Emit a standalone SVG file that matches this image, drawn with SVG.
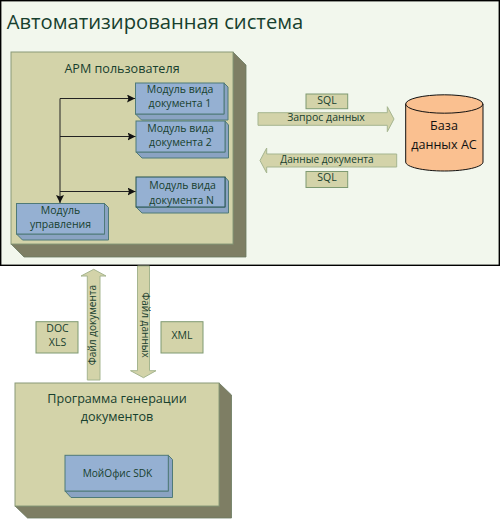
<svg xmlns="http://www.w3.org/2000/svg" width="500" height="519" viewBox="0 0 500 519">
<style>
text{font-family:"Open Sans","Noto Sans","DejaVu Sans",sans-serif;fill:#17402e;text-anchor:middle}
.t10{font-size:10.1px}
.t11{font-size:10.5px}
.t13{font-size:12.6px}
.front{fill:#d3d3a9;stroke:#8a9a78;stroke-width:1}
.side{fill:#7e7e64;stroke:#6a7a60;stroke-width:.8}
.mf{fill:#95b0d2;stroke:#4f7a78;stroke-width:1}
.ms{fill:#8aa3c2;stroke:#4f7a78;stroke-width:1}
.tag{fill:#d3d3a9;stroke:#7f9a72;stroke-width:1}
.arrow{fill:#d3d3a9;stroke:#a5b58f;stroke-width:1}
.conn{fill:none;stroke:#222;stroke-width:1}
</style>
<defs>
<marker id="ah" viewBox="0 0 8 8" refX="8" refY="4" markerWidth="8" markerHeight="8" markerUnits="userSpaceOnUse" orient="auto"><path d="M0 0L8 4L0 8L1.5 4Z" fill="#111"/></marker>
</defs>
<rect width="500" height="519" fill="#fff"/>
<g id="system">
<rect x="0.7" y="0.7" width="498.6" height="264.6" fill="#f2f7ed" stroke="#000" stroke-width="1.4"/>
<text x="155" y="29" style="font-size:20.2px">Автоматизированная система</text>
</g>
<g id="arm">
<path class="side" d="M233 52L246 65V257H24L11 244H233Z"/>
<rect class="front" x="11" y="52" width="222" height="192"/>
<text class="t13" x="122" y="73">АРМ пользователя</text>
</g>
<g id="module1">
<path class="ms" d="M224 83L228 87V120H141.500L135.500 114H224Z"/>
<rect class="mf" x="135.500" y="83" width="88.500" height="31"/>
<text class="t11" x="180" y="93">Модуль вида</text><text class="t11" x="180" y="107">документа 1</text>
</g>
<g id="module2">
<path class="ms" d="M225 121L228.500 125V158H142L136 152H225Z"/>
<rect class="mf" x="136" y="121" width="89" height="31"/>
<text class="t11" x="180.500" y="131.500">Модуль вида</text><text class="t11" x="180.500" y="146">документа 2</text>
</g>
<g id="moduleN">
<path class="ms" d="M225 177L228.500 181V213H142L136 207H225Z"/>
<rect class="mf" x="136" y="177" width="89" height="30" style="stroke:#24524f"/>
<text class="t11" x="182.500" y="189">Модуль вида</text><text class="t11" x="181.500" y="203.500">документа N</text>
</g>
<g id="control">
<path class="ms" d="M104.500 203.500L108.500 207.500V240H22.500L16.500 234H104.500Z"/>
<rect class="mf" x="16.500" y="203.500" width="88" height="30.500"/>
<text class="t11" x="60.500" y="214">Модуль</text><text class="t11" x="60.500" y="228">управления</text>
</g>
<g id="connectors">
<path class="conn" marker-end="url(#ah)" d="M60 98.500H135"/>
<path class="conn" marker-end="url(#ah)" d="M60 136.500H135.500"/>
<path class="conn" marker-end="url(#ah)" d="M60 191.500H135.500"/>
<path class="conn" marker-end="url(#ah)" d="M60 98.500V203"/>
<path class="arrow" d="M258 112.700H387.300V106.700L394 119L387.300 131.700V125.300H258Z"/>
<path class="arrow" d="M396.700 154H266.700V148L260 160.500L266.700 173V167H396.700Z"/>
<path class="arrow" d="M87.300 380V276H81L93.700 269.300L106 276H100V380Z"/>
<path class="arrow" d="M137.500 266V370.700H130.500L143.500 377.700L156 370.700H149.500V266Z"/>
<text class="t11" x="326" y="120.500">Запрос данных</text>
<text class="t10" x="327" y="162.500">Данные документа</text>
<text class="t10" transform="translate(95.500 325) rotate(-90)">Файл документа</text>
<text class="t10" transform="translate(141.500 325) rotate(90)">Файл данных</text>
</g>
<g id="sql1"><rect class="tag" x="306" y="94" width="41.700" height="14.700"/><text class="t11" x="327" y="103.500">SQL</text></g>
<g id="sql2"><rect class="tag" x="306" y="171.500" width="41.700" height="16"/><text class="t11" x="327" y="181">SQL</text></g>
<g id="db">
<path d="M405.700 104V162C405.700 167 423 171 444.300 171S483 167 483 162V104Z" fill="#fac090" stroke="#111" stroke-width="1"/>
<ellipse cx="444.300" cy="104" rx="38.600" ry="9.200" fill="#fac090" stroke="#111" stroke-width="1"/>
<text class="t13" x="444" y="130" style="fill:#111">База</text>
<text class="t13" x="444" y="149" style="fill:#111">данных АС</text>
</g>
<g id="doc"><rect class="tag" x="36" y="321.700" width="42" height="31.300"/><text class="t11" x="57.500" y="332">DOC</text><text class="t11" x="57.500" y="346">XLS</text></g>
<g id="xml"><rect class="tag" x="161" y="321.700" width="42" height="31.300"/><text class="t11" x="182" y="339">XML</text></g>
<g id="generator">
<path class="side" d="M219 383L231.500 395V518H27.500L15 506H219Z"/>
<rect class="front" x="15" y="383" width="204" height="123"/>
<text class="t13" x="117" y="403">Программа генерации</text><text class="t13" x="117" y="421">документов</text>
</g>
<g id="sdk">
<path class="ms" d="M168.300 455.300L172.500 459.500V497.500H71L65 491H168.300Z"/>
<rect class="mf" x="65" y="455.300" width="103.300" height="35.700"/>
<text class="t10" x="117.500" y="477">МойОфис SDK</text>
</g>
</svg>
